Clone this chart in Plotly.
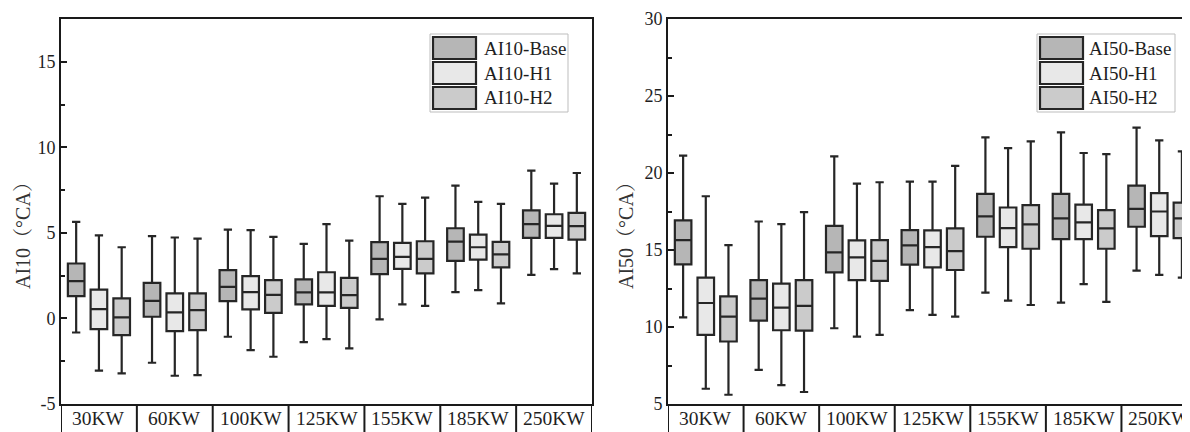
import plotly.graph_objects as go
from plotly.subplots import make_subplots

categories = ["30KW", "60KW", "100KW", "125KW", "155KW", "185KW", "250KW"]

# AI10 (left panel): whisker low, Q1, median, Q3, whisker high
ai10_base_low = [-0.82, -2.59, -1.07, -1.38, -0.06, 1.54, 2.55]
ai10_base_q1 = [1.30, 0.10, 1.01, 0.82, 2.59, 3.37, 4.71]
ai10_base_med = [2.18, 1.03, 1.85, 1.52, 3.48, 4.49, 5.51]
ai10_base_q3 = [3.21, 2.08, 2.82, 2.28, 4.46, 5.27, 6.32]
ai10_base_high = [5.64, 4.81, 5.19, 4.36, 7.14, 7.76, 8.64]

ai10_h1_low = [-3.05, -3.35, -1.85, -1.21, 0.82, 1.65, 2.88]
ai10_h1_q1 = [-0.62, -0.74, 0.53, 0.74, 2.90, 3.44, 4.71]
ai10_h1_med = [0.54, 0.35, 1.54, 1.52, 3.60, 4.16, 5.41]
ai10_h1_q3 = [1.69, 1.46, 2.47, 2.70, 4.42, 4.90, 6.09]
ai10_h1_high = [4.86, 4.73, 5.16, 5.51, 6.69, 6.81, 7.88]

ai10_h2_low = [-3.21, -3.31, -2.24, -1.75, 0.74, 0.88, 2.63]
ai10_h2_q1 = [-0.97, -0.68, 0.33, 0.62, 2.63, 2.98, 4.61]
ai10_h2_med = [0.06, 0.49, 1.38, 1.36, 3.48, 3.74, 5.39]
ai10_h2_q3 = [1.17, 1.46, 2.24, 2.37, 4.51, 4.47, 6.17]
ai10_h2_high = [4.16, 4.67, 4.77, 4.55, 7.06, 6.69, 8.50]

# AI50 (right panel)
ai50_base_low = [10.63, 7.22, 9.92, 11.09, 12.23, 11.58, 13.66]
ai50_base_q1 = [14.07, 10.42, 13.55, 14.05, 15.86, 15.71, 16.51]
ai50_base_med = [15.64, 11.84, 14.84, 15.30, 17.18, 17.05, 17.67]
ai50_base_q3 = [16.92, 13.05, 16.57, 16.29, 18.64, 18.64, 19.18]
ai50_base_high = [21.13, 16.85, 21.08, 19.44, 22.31, 22.64, 22.94]

ai50_h1_low = [5.99, 6.23, 9.38, 10.79, 11.71, 12.79, 13.38]
ai50_h1_q1 = [9.49, 9.79, 13.05, 13.87, 15.19, 15.71, 15.90]
ai50_h1_med = [11.56, 11.26, 14.52, 15.19, 16.42, 16.79, 17.50]
ai50_h1_q3 = [13.20, 12.82, 15.62, 16.27, 17.76, 17.95, 18.69]
ai50_h1_high = [18.49, 16.68, 19.31, 19.44, 21.62, 21.30, 22.12]

ai50_h2_low = [5.60, 5.78, 9.49, 10.68, 11.43, 11.63, 13.20]
ai50_h2_q1 = [9.06, 9.77, 12.99, 13.70, 15.08, 15.08, 15.77]
ai50_h2_med = [10.68, 11.37, 14.30, 14.93, 16.66, 16.40, 17.05]
ai50_h2_q3 = [11.99, 13.05, 15.64, 16.40, 17.91, 17.59, 18.08]
ai50_h2_high = [15.32, 17.46, 19.40, 20.46, 22.06, 21.23, 21.41]

left_names = ["AI10-Base", "AI10-H1", "AI10-H2"]
right_names = ["AI50-Base", "AI50-H1", "AI50-H2"]
left_ticks = [-5, 0, 5, 10, 15]
left_ticktext = ["-5", "0", "5", "10", "15"]
right_ticks = [5, 10, 15, 20, 25, 30]
right_ticktext = ["5", "10", "15", "20", "25", "30"]
fills = ["#b6b6b6", "#e8e8e8", "#cbcbcb"]

# page body has an 8px default margin; the figure fills the rest of the window
OFF = 8
W, H = 1190 - OFF, 432 - OFF
PLOT_TOP, PLOT_BOTTOM = 19, 404
MT, MB = PLOT_TOP - OFF, 432 - PLOT_BOTTOM
FONT = "Liberation Serif"
TFONT = "Liberation Serif, Noto Serif CJK SC, Noto Sans CJK SC"
LINE = "#262626"


def px_x(x):
    return (x - OFF) / W


def px_y(y):
    return (PLOT_BOTTOM - y) / (PLOT_BOTTOM - PLOT_TOP)


fig = make_subplots(rows=1, cols=2)

left_sets = [
    (ai10_base_low, ai10_base_q1, ai10_base_med, ai10_base_q3, ai10_base_high),
    (ai10_h1_low, ai10_h1_q1, ai10_h1_med, ai10_h1_q3, ai10_h1_high),
    (ai10_h2_low, ai10_h2_q1, ai10_h2_med, ai10_h2_q3, ai10_h2_high),
]
right_sets = [
    (ai50_base_low, ai50_base_q1, ai50_base_med, ai50_base_q3, ai50_base_high),
    (ai50_h1_low, ai50_h1_q1, ai50_h1_med, ai50_h1_q3, ai50_h1_high),
    (ai50_h2_low, ai50_h2_q1, ai50_h2_med, ai50_h2_q3, ai50_h2_high),
]

for col, sets, names in [(1, left_sets, left_names), (2, right_sets, right_names)]:
    for i, ((lo, q1, md, q3, hi), nm, fc) in enumerate(zip(sets, names, fills)):
        fig.add_trace(
            go.Box(
                x=categories, lowerfence=lo, q1=q1, median=md, q3=q3, upperfence=hi,
                name=nm, fillcolor=fc, line=dict(color=LINE, width=2.2),
                whiskerwidth=0.5, boxpoints=False, showlegend=False,
                hoverinfo="skip", alignmentgroup=f"g{col}", offsetgroup=f"s{i}",
            ),
            row=1, col=col,
        )

axis_common = dict(
    showline=True, linecolor="#1a1a1a", linewidth=2, showgrid=False, zeroline=False,
    tickfont=dict(family=FONT, size=18, color="#1e1e1e"), automargin=False,
)

fig.update_xaxes(
    type="category", categoryorder="array", categoryarray=categories,
    ticks="", mirror=True, showticklabels=False, **axis_common,
)
fig.update_xaxes(domain=[px_x(61), px_x(592)], range=[-0.5, 6.5], row=1, col=1)
fig.update_xaxes(domain=[px_x(668), 1.0], range=[-0.5, 6.407], row=1, col=2)

yaxis_common = dict(
    ticks="inside", ticklen=6, tickwidth=2, tickcolor="#1a1a1a",
    minor=dict(ticks="inside", ticklen=4, tickwidth=2, tickcolor="#1a1a1a", dtick=2.5),
    **axis_common,
)
fig.update_yaxes(range=[-5, 17.5], tickmode="array", tickvals=left_ticks,
                 ticktext=left_ticktext, mirror=True, row=1, col=1, **yaxis_common)
fig.update_yaxes(range=[5, 30], tickmode="array", tickvals=right_ticks,
                 ticktext=right_ticktext, mirror=False, row=1, col=2, **yaxis_common)

shapes = []
annotations = []
# category cells below the x axes
for xr in ["x", "x2"]:
    for k in range(8):
        shapes.append(dict(type="line", xref=xr, yref="paper", x0=k - 0.5, x1=k - 0.5,
                           y0=0, y1=-0.2, line=dict(color="#1a1a1a", width=2)))
    for c in categories:
        annotations.append(dict(xref=xr, yref="paper", x=c, y=px_y(419), text=c,
                                showarrow=False, xanchor="center", yanchor="middle",
                                font=dict(family=FONT, size=19.5, color="#1e1e1e")))

# legends
legend_specs = [
    (left_names, 430, 568, 433, 476, 482),
    (right_names, 1037, 1175, 1040, 1083, 1087),
]
rows_y = [(37, 59), (62, 84), (87, 109)]
for names, bx0, bx1, sx0, sx1, tx in legend_specs:
    shapes.append(dict(type="rect", xref="paper", yref="paper",
                       x0=px_x(bx0), x1=px_x(bx1), y0=px_y(112), y1=px_y(34),
                       line=dict(color="#bdbdbd", width=1), fillcolor="white", layer="above"))
    for (ry0, ry1), nm, fc in zip(rows_y, names, fills):
        shapes.append(dict(type="rect", xref="paper", yref="paper",
                           x0=px_x(sx0), x1=px_x(sx1), y0=px_y(ry1), y1=px_y(ry0),
                           line=dict(color=LINE, width=2.2), fillcolor=fc, layer="above"))
        annotations.append(dict(xref="paper", yref="paper", x=px_x(tx), y=px_y((ry0 + ry1) / 2),
                                text=nm, showarrow=False, xanchor="left", yanchor="middle",
                                font=dict(family=FONT, size=19, color="#1e1e1e")))

# y-axis titles
for xc, txt in [(23, "AI10（°CA）"), (626, "AI50（°CA）")]:
    annotations.append(dict(xref="paper", yref="paper", x=px_x(xc), y=px_y(231),
                            text=txt, textangle=-90, showarrow=False,
                            xanchor="center", yanchor="middle",
                            font=dict(family=TFONT, size=20, color="#333")))

fig.update_layout(
    width=W, height=H, margin=dict(l=0, r=0, t=MT, b=MB),
    paper_bgcolor="white", plot_bgcolor="white",
    boxmode="group", boxgap=0.1, boxgroupgap=0.27,
    shapes=shapes, annotations=annotations, showlegend=False,
)

fig.write_html("out.html")
